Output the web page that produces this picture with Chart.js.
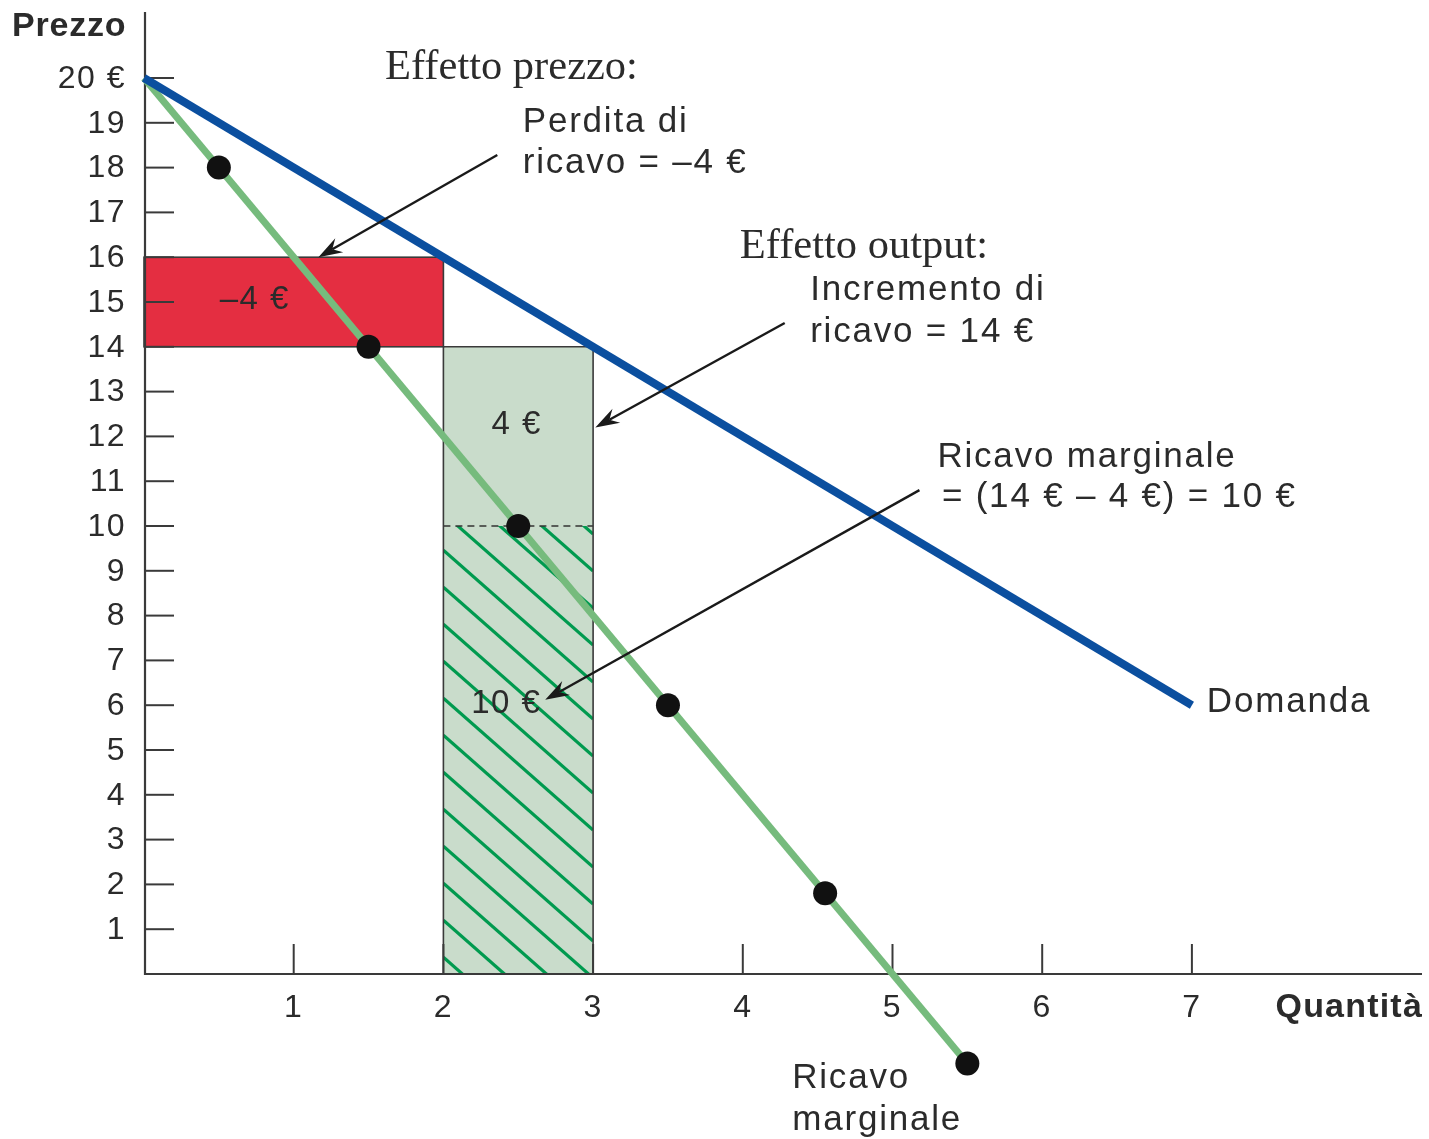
<!DOCTYPE html>
<html>
<head>
<meta charset="utf-8">
<script src="https://cdn.jsdelivr.net/npm/chart.js@4.4.1/dist/chart.umd.min.js"></script>
<style>
  html, body { margin: 0; padding: 0; background: #ffffff; }
  canvas { display: block; }
</style>
</head>
<body>
<canvas id="chart" width="1429" height="1139"></canvas>
<script>
// ---- data ----------------------------------------------------------------
const quantityTicks = [1, 2, 3, 4, 5, 6, 7];
const quantityTickLabels = ['1', '2', '3', '4', '5', '6', '7'];
const priceTicks = [1, 2, 3, 4, 5, 6, 7, 8, 9, 10, 11, 12, 13, 14, 15, 16, 17, 18, 19, 20];
const priceTickLabels = ['1', '2', '3', '4', '5', '6', '7', '8', '9', '10', '11', '12', '13', '14', '15', '16', '17', '18', '19', '20 €'];

// demand curve (quantity, price)
const demandQ = [0, 7];
const demandP = [20, 6];

// marginal revenue curve and its marked points
const marginalQ = [0, 5.5];
const marginalP = [20, -2];
const marginalPointQ = [0.5, 1.5, 2.5, 3.5, 4.55, 5.5];
const marginalPointP = [18, 14, 10, 6, 1.8, -2];

// revenue areas: quantity range, price range
const lossQ = [0, 2];
const lossP = [14, 16];
const gainQ = [2, 3];
const gainP = [0, 14];
const netQ = [2, 3];
const netP = [0, 10];

// ---- labels and arrows (data coordinates) ---------------------------------
const areaLabels = [
  { text: '–4 €', q: 0.74, p: 15.05 },
  { text: '4 €', q: 2.49, p: 12.25 },
  { text: '10 €', q: 2.42, p: 6.03 }
];
const serifLabels = [
  { text: 'Effetto prezzo:', q: 1.61, p: 20.22 },
  { text: 'Effetto output:', q: 3.98, p: 16.23 }
];
const noteLabels = [
  { text: 'Perdita di', q: 2.53, p: 19.02 },
  { text: 'ricavo = –4 €', q: 2.53, p: 18.1 },
  { text: 'Incremento di', q: 4.45, p: 15.25 },
  { text: 'ricavo = 14 €', q: 4.45, p: 14.33 },
  { text: 'Ricavo marginale', q: 5.3, p: 11.54 },
  { text: '= (14 € – 4 €) = 10 €', q: 5.33, p: 10.63 },
  { text: 'Domanda', q: 7.1, p: 6.07 },
  { text: 'Ricavo', q: 4.33, p: -2.32 },
  { text: 'marginale', q: 4.33, p: -3.26 }
];
const arrows = [
  { from: [2.36, 18.28], to: [1.165, 16.0] },
  { from: [4.28, 14.53], to: [3.015, 12.2] },
  { from: [5.18, 10.8], to: [2.68, 6.12] }
];

const SANS = '"Liberation Sans", Arial, sans-serif';
const INK = '#2b2b2b';

function pointsOf(qs, ps) { return qs.map((q, i) => ({ x: q, y: ps[i] })); }

function drawText(ctx, text, x, y, font, align, spacing) {
  ctx.save();
  ctx.font = font;
  ctx.fillStyle = INK;
  ctx.textBaseline = 'middle';
  ctx.textAlign = align;
  if ('letterSpacing' in ctx) ctx.letterSpacing = spacing || '0px';
  ctx.fillText(text, x, y);
  ctx.restore();
}

function drawArrow(ctx, x1, y1, x2, y2) {
  const ang = Math.atan2(y2 - y1, x2 - x1);
  const len = 24, half = 8, notch = 16;
  ctx.save();
  ctx.strokeStyle = '#1a1a1a';
  ctx.fillStyle = '#1a1a1a';
  ctx.lineWidth = 2.4;
  ctx.beginPath();
  ctx.moveTo(x1, y1);
  ctx.lineTo(x2 - Math.cos(ang) * notch, y2 - Math.sin(ang) * notch);
  ctx.stroke();
  const bx = x2 - Math.cos(ang) * len, by = y2 - Math.sin(ang) * len;
  const nx = -Math.sin(ang), ny = Math.cos(ang);
  ctx.beginPath();
  ctx.moveTo(x2, y2);
  ctx.lineTo(bx + nx * half, by + ny * half);
  ctx.lineTo(x2 - Math.cos(ang) * notch, y2 - Math.sin(ang) * notch);
  ctx.lineTo(bx - nx * half, by - ny * half);
  ctx.closePath();
  ctx.fill();
  ctx.restore();
}

const economicsPlugin = {
  id: 'economicsPlugin',
  beforeDatasetsDraw(chart) {
    const { ctx, scales: { x, y } } = chart;
    const X = v => x.getPixelForValue(v);
    const Y = v => y.getPixelForValue(v);

    // lost revenue (price effect)
    ctx.save();
    ctx.fillStyle = '#e42e41';
    ctx.fillRect(X(lossQ[0]), Y(lossP[1]), X(lossQ[1]) - X(lossQ[0]), Y(lossP[0]) - Y(lossP[1]));
    // gained revenue (output effect)
    ctx.fillStyle = '#c9dccb';
    ctx.fillRect(X(gainQ[0]), Y(gainP[1]), X(gainQ[1]) - X(gainQ[0]), Y(gainP[0]) - Y(gainP[1]));

    // hatching for the net marginal revenue
    const hx0 = X(netQ[0]), hx1 = X(netQ[1]), hy0 = Y(netP[1]), hy1 = Y(netP[0]);
    ctx.save();
    ctx.beginPath();
    ctx.rect(hx0, hy0, hx1 - hx0, hy1 - hy0);
    ctx.clip();
    ctx.strokeStyle = '#009a4f';
    ctx.lineWidth = 3.2;
    const step = 37, slope = 0.88;
    for (let s = hy0 - (hx1 - hx0) * slope - step; s < hy1 + step; s += step) {
      ctx.beginPath();
      ctx.moveTo(hx0, s + 8);
      ctx.lineTo(hx1, s + 8 + (hx1 - hx0) * slope);
      ctx.stroke();
    }
    ctx.restore();

    // dashed boundary at the marginal revenue level
    ctx.strokeStyle = '#333';
    ctx.lineWidth = 1.5;
    ctx.setLineDash([7, 5]);
    ctx.beginPath();
    ctx.moveTo(hx0, hy0);
    ctx.lineTo(hx1, hy0);
    ctx.stroke();
    ctx.setLineDash([]);

    // rectangle outlines
    ctx.strokeStyle = '#3a3a3a';
    ctx.lineWidth = 1.6;
    ctx.strokeRect(X(lossQ[0]), Y(lossP[1]), X(lossQ[1]) - X(lossQ[0]), Y(lossP[0]) - Y(lossP[1]));
    ctx.beginPath();
    ctx.moveTo(X(gainQ[0]), Y(gainP[0]));
    ctx.lineTo(X(gainQ[0]), Y(gainP[1]));
    ctx.lineTo(X(gainQ[1]), Y(gainP[1]));
    ctx.lineTo(X(gainQ[1]), Y(gainP[0]));
    ctx.stroke();

    // axes
    const axisX = X(0) + 1;
    ctx.strokeStyle = '#3a3a3a';
    ctx.lineWidth = 2.2;
    ctx.beginPath();
    ctx.moveTo(axisX, 12);
    ctx.lineTo(axisX, Y(0));
    ctx.lineTo(1422, Y(0));
    ctx.stroke();

    // tick marks point inward
    ctx.lineWidth = 2;
    priceTicks.forEach(v => {
      ctx.beginPath();
      ctx.moveTo(axisX, Y(v));
      ctx.lineTo(axisX + 29, Y(v));
      ctx.stroke();
    });
    quantityTicks.forEach(v => {
      ctx.beginPath();
      ctx.moveTo(X(v), Y(0));
      ctx.lineTo(X(v), Y(0) - 30);
      ctx.stroke();
    });
    ctx.restore();

    // tick labels
    priceTicks.forEach((v, i) => {
      drawText(ctx, priceTickLabels[i], 126, Y(v) + 1, '32px ' + SANS, 'right', '1.5px');
    });
    quantityTicks.forEach((v, i) => {
      drawText(ctx, quantityTickLabels[i], X(v), Y(0) + 34, '32px ' + SANS, 'center', '1.5px');
    });

    // axis titles
    drawText(ctx, 'Prezzo', 12, 27, 'bold 34px ' + SANS, 'left', '0.8px');
    drawText(ctx, 'Quantità', 1423, Y(0) + 34, 'bold 34px ' + SANS, 'right', '1.2px');
  },
  afterDatasetsDraw(chart) {
    const { ctx, scales: { x, y } } = chart;
    const X = v => x.getPixelForValue(v);
    const Y = v => y.getPixelForValue(v);

    areaLabels.forEach(l => drawText(ctx, l.text, X(l.q), Y(l.p), '33px ' + SANS, 'center', '1.5px'));
    serifLabels.forEach(l => drawText(ctx, l.text, X(l.q), Y(l.p), '42.5px "Liberation Serif", "Times New Roman", serif', 'left', '0px'));
    noteLabels.forEach(l => drawText(ctx, l.text, X(l.q), Y(l.p), '35px ' + SANS, 'left', '1.8px'));
    arrows.forEach(a => drawArrow(ctx, X(a.from[0]), Y(a.from[1]), X(a.to[0]), Y(a.to[1])));
  }
};

new Chart(document.getElementById('chart'), {
  type: 'scatter',
  data: {
    datasets: [
      {
        label: 'Punti ricavo marginale',
        data: pointsOf(marginalPointQ, marginalPointP),
        pointRadius: 12,
        pointBackgroundColor: '#111111',
        pointBorderWidth: 0,
        showLine: false,
        order: 0
      },
      {
        label: 'Domanda',
        data: pointsOf(demandQ, demandP),
        showLine: true,
        borderColor: '#0b4f9f',
        borderWidth: 8,
        pointRadius: 0,
        borderCapStyle: 'butt',
        order: 1
      },
      {
        label: 'Ricavo marginale',
        data: pointsOf(marginalQ, marginalP),
        showLine: true,
        borderColor: '#76bb7d',
        borderWidth: 7,
        pointRadius: 0,
        borderCapStyle: 'butt',
        order: 2
      }
    ]
  },
  options: {
    responsive: false,
    animation: false,
    layout: { padding: 0, autoPadding: false },
    plugins: { legend: { display: false }, tooltip: { enabled: false } },
    scales: {
      x: { type: 'linear', display: false, min: -144 / 149.7, max: (1429 - 144) / 149.7 },
      y: { type: 'linear', display: false, min: -(1139 - 974) / 44.8, max: 974 / 44.8 }
    }
  },
  plugins: [economicsPlugin]
});
</script>
</body>
</html>
